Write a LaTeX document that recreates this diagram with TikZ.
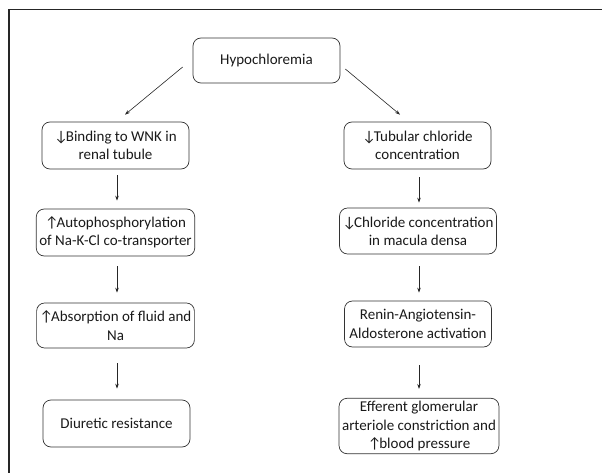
\documentclass[tikz,border=0pt]{standalone}
\usepackage{fontspec}
\setmainfont{Carlito}
\usetikzlibrary{arrows.meta}
\newcommand\dnar{↓\kern-2pt}
\newcommand\upar{↑\kern-2pt}
\begin{document}
\begin{tikzpicture}[x=1pt,y=1pt,
  box/.style={draw=black!80,line width=0.7pt,rounded corners=8pt,align=center,
    minimum width=147pt,inner sep=3pt,
    font=\fontsize{15pt}{18.3pt}\selectfont,text=black!90},
  arr/.style={draw=black!85,line width=0.6pt,-{Stealth[length=5pt,width=3.5pt]}}]
\useasboundingbox (0,0) rectangle (602,-473);
\draw[line width=1.2pt,black!85] (9,-473) -- (9,-9.5) -- (602,-9.5);
\node[box,minimum height=45pt] (h) at (266.5,-60.5) {Hypochloremia};
\node[box,minimum height=47pt] (l1) at (115.5,-145.5) {\dnar Binding to WNK in\\renal tubule};
\node[box,minimum height=47pt] (l2) at (115.5,-232.5) {\upar Autophosphorylation\\of Na-K-Cl co-transporter};
\node[box,minimum height=45pt] (l3) at (115.5,-325.5) {\upar Absorption of fluid and\\Na};
\node[box,minimum height=47pt] (l4) at (116.5,-423.5) {Diuretic resistance};
\node[box,minimum height=47pt] (r1) at (417.5,-145.5) {\dnar Tubular chloride\\concentration};
\node[box,minimum height=46pt] (r2) at (418,-231) {\dnar Chloride concentration\\in macula densa};
\node[box,minimum height=46pt] (r3) at (418,-324) {Renin-Angiotensin-\\Aldosterone activation};
\node[box,minimum height=52pt] (r4) at (419,-426) {Efferent glomerular\\arteriole constriction and\\\upar blood pressure};
\draw[arr] ([shift={(-10pt,-6.5pt)}]h.west) -- ([shift={(9.5pt,7pt)}]l1.north);
\draw[arr] ([shift={(5pt,-8.5pt)}]h.east) -- ([shift={(-17.5pt,7pt)}]r1.north);
\draw[arr] ([shift={(1.5pt,-6pt)}]l1.south) -- ([shift={(1.5pt,8pt)}]l2.north);
\draw[arr] ([shift={(1.5pt,-10pt)}]l2.south) -- ([shift={(1.5pt,10pt)}]l3.north);
\draw[arr] ([shift={(1.5pt,-15pt)}]l3.south) -- ([shift={(0.5pt,11pt)}]l4.north);
\draw[arr] ([shift={(1.5pt,-8pt)}]r1.south) -- ([shift={(1pt,5pt)}]r2.north);
\draw[arr] ([shift={(1pt,-12pt)}]r2.south) -- ([shift={(1pt,8pt)}]r3.north);
\draw[arr] ([shift={(1pt,-18pt)}]r3.south) -- ([shift={(0pt,9pt)}]r4.north);
\end{tikzpicture}
\end{document}
